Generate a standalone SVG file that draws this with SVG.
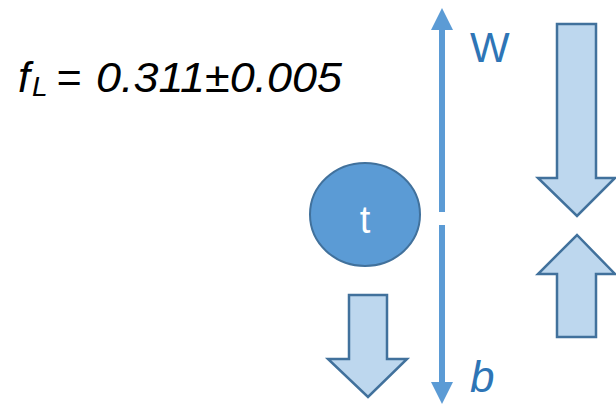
<svg xmlns="http://www.w3.org/2000/svg" width="616" height="406" viewBox="0 0 616 406">
<style>
.blk{fill:#BDD7EE;stroke:#41719C;stroke-width:2.5;stroke-linejoin:miter}
.ax{stroke:#5B9BD5;stroke-width:6;fill:none}
.txt{font-family:"Liberation Sans",Arial,sans-serif}
</style>
<defs>
<marker id="ah" markerWidth="4" markerHeight="4" viewBox="0 0 24 22" refX="2" refY="11" orient="auto" markerUnits="strokeWidth">
<path d="M0,0 L22,11 L0,22 Z" fill="#5B9BD5"/>
</marker>
</defs>
<rect width="616" height="406" fill="#fff"/>
<g id="formula" class="txt" font-style="italic" fill="#000">
<text x="18" y="92" font-size="43">f</text>
<text x="32" y="96" font-size="28">L</text>
<text x="56" y="92" font-size="43">=</text>
<text x="96" y="92" font-size="43" textLength="246" lengthAdjust="spacingAndGlyphs">0.311±0.005</text>
</g>
<g id="connectors">
<line class="ax" x1="442" y1="212" x2="442" y2="28" marker-end="url(#ah)"/>
<line class="ax" x1="442" y1="225" x2="442" y2="384" marker-end="url(#ah)"/>
</g>
<g id="label-W"><text class="txt" x="470" y="62" font-size="42" fill="#2E75B6">W</text></g>
<g id="label-b"><text class="txt" x="470" y="392" font-size="44" font-style="italic" fill="#2E75B6">b</text></g>
<g id="node-t">
<ellipse cx="365" cy="214.5" rx="55" ry="51.5" fill="#5B9BD5" stroke="#41719C" stroke-width="2"/>
<text class="txt" x="365" y="233" font-size="38" fill="#fff" text-anchor="middle">t</text>
</g>
<g id="arrow-small-down">
<path class="blk" d="M349,295 H387 V359 H407 L368,397 L328,359 H349 Z"/>
</g>
<g id="arrow-right-down">
<path class="blk" d="M557,24 H596 V178 H615 L577,216 L538,178 H557 Z"/>
</g>
<g id="arrow-right-up">
<path class="blk" d="M557,337 H596 V274 H615 L577,235 L538,274 H557 Z"/>
</g>
</svg>
